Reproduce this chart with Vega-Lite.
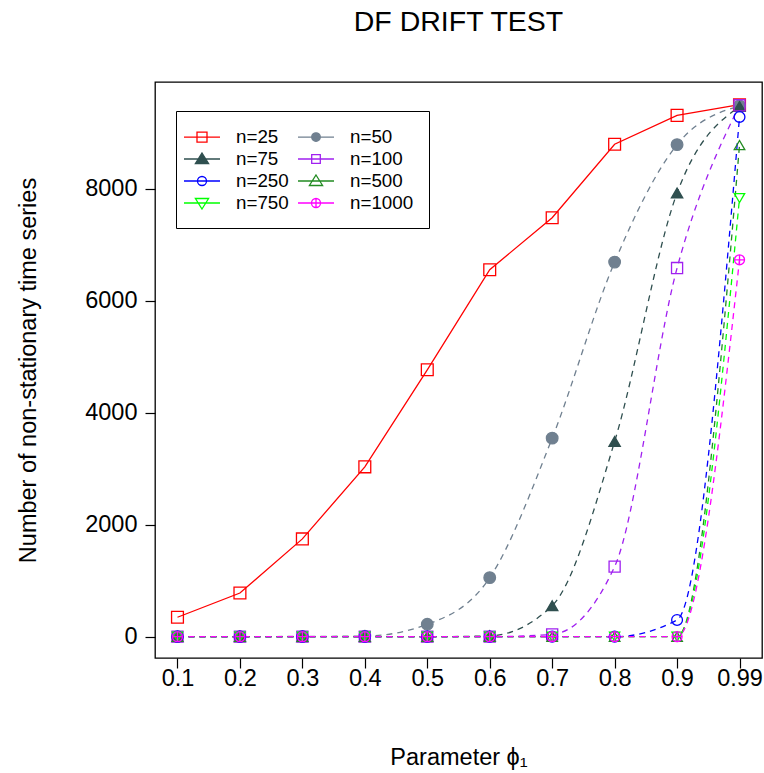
{
  "$schema": "https://vega.github.io/schema/vega-lite/v6.json",
  "width": 607,
  "height": 576,
  "autosize": "none",
  "padding": {"left": 155, "top": 82, "right": 2, "bottom": 115},
  "background": "white",
  "config": {
    "font": "Liberation Sans",
    "view": {"stroke": "black", "strokeWidth": 1.3},
    "axis": {"labelColor": "black", "titleColor": "black", "tickColor": "black", "tickWidth": 1.2, "grid": false, "domain": false}
  },
  "title": {"text": "DF DRIFT TEST", "fontSize": 28.5, "fontWeight": "normal", "font": "Liberation Sans", "anchor": "middle", "frame": "group", "offset": 46, "color": "black"},
  "data": {"values": [
    {"n": "n=25", "phi": "0.1", "count": 347}, {"n": "n=25", "phi": "0.2", "count": 780}, {"n": "n=25", "phi": "0.3", "count": 1746}, {"n": "n=25", "phi": "0.4", "count": 3033}, {"n": "n=25", "phi": "0.5", "count": 4766}, {"n": "n=25", "phi": "0.6", "count": 6553}, {"n": "n=25", "phi": "0.7", "count": 7482}, {"n": "n=25", "phi": "0.8", "count": 8795}, {"n": "n=25", "phi": "0.9", "count": 9310}, {"n": "n=25", "phi": "0.99", "count": 9500},
    {"n": "n=50", "phi": "0.1", "count": 0}, {"n": "n=50", "phi": "0.2", "count": 0}, {"n": "n=50", "phi": "0.3", "count": 5}, {"n": "n=50", "phi": "0.4", "count": 10}, {"n": "n=50", "phi": "0.5", "count": 221}, {"n": "n=50", "phi": "0.6", "count": 1054}, {"n": "n=50", "phi": "0.7", "count": 3545}, {"n": "n=50", "phi": "0.8", "count": 6690}, {"n": "n=50", "phi": "0.9", "count": 8787}, {"n": "n=50", "phi": "0.99", "count": 9480},
    {"n": "n=75", "phi": "0.1", "count": 0}, {"n": "n=75", "phi": "0.2", "count": 0}, {"n": "n=75", "phi": "0.3", "count": 0}, {"n": "n=75", "phi": "0.4", "count": 0}, {"n": "n=75", "phi": "0.5", "count": 0}, {"n": "n=75", "phi": "0.6", "count": 15}, {"n": "n=75", "phi": "0.7", "count": 554}, {"n": "n=75", "phi": "0.8", "count": 3485}, {"n": "n=75", "phi": "0.9", "count": 7923}, {"n": "n=75", "phi": "0.99", "count": 9470},
    {"n": "n=100", "phi": "0.1", "count": 0}, {"n": "n=100", "phi": "0.2", "count": 0}, {"n": "n=100", "phi": "0.3", "count": 0}, {"n": "n=100", "phi": "0.4", "count": 0}, {"n": "n=100", "phi": "0.5", "count": 0}, {"n": "n=100", "phi": "0.6", "count": 0}, {"n": "n=100", "phi": "0.7", "count": 40}, {"n": "n=100", "phi": "0.8", "count": 1251}, {"n": "n=100", "phi": "0.9", "count": 6583}, {"n": "n=100", "phi": "0.99", "count": 9490},
    {"n": "n=250", "phi": "0.1", "count": 0}, {"n": "n=250", "phi": "0.2", "count": 0}, {"n": "n=250", "phi": "0.3", "count": 0}, {"n": "n=250", "phi": "0.4", "count": 0}, {"n": "n=250", "phi": "0.5", "count": 0}, {"n": "n=250", "phi": "0.6", "count": 0}, {"n": "n=250", "phi": "0.7", "count": 0}, {"n": "n=250", "phi": "0.8", "count": 0}, {"n": "n=250", "phi": "0.9", "count": 298}, {"n": "n=250", "phi": "0.99", "count": 9281},
    {"n": "n=500", "phi": "0.1", "count": 0}, {"n": "n=500", "phi": "0.2", "count": 0}, {"n": "n=500", "phi": "0.3", "count": 0}, {"n": "n=500", "phi": "0.4", "count": 0}, {"n": "n=500", "phi": "0.5", "count": 0}, {"n": "n=500", "phi": "0.6", "count": 0}, {"n": "n=500", "phi": "0.7", "count": 0}, {"n": "n=500", "phi": "0.8", "count": 0}, {"n": "n=500", "phi": "0.9", "count": 0}, {"n": "n=500", "phi": "0.99", "count": 8780},
    {"n": "n=750", "phi": "0.1", "count": 0}, {"n": "n=750", "phi": "0.2", "count": 0}, {"n": "n=750", "phi": "0.3", "count": 0}, {"n": "n=750", "phi": "0.4", "count": 0}, {"n": "n=750", "phi": "0.5", "count": 0}, {"n": "n=750", "phi": "0.6", "count": 0}, {"n": "n=750", "phi": "0.7", "count": 0}, {"n": "n=750", "phi": "0.8", "count": 0}, {"n": "n=750", "phi": "0.9", "count": 0}, {"n": "n=750", "phi": "0.99", "count": 7834},
    {"n": "n=1000", "phi": "0.1", "count": 0}, {"n": "n=1000", "phi": "0.2", "count": 0}, {"n": "n=1000", "phi": "0.3", "count": 0}, {"n": "n=1000", "phi": "0.4", "count": 0}, {"n": "n=1000", "phi": "0.5", "count": 0}, {"n": "n=1000", "phi": "0.6", "count": 0}, {"n": "n=1000", "phi": "0.7", "count": 0}, {"n": "n=1000", "phi": "0.8", "count": 0}, {"n": "n=1000", "phi": "0.9", "count": 0}, {"n": "n=1000", "phi": "0.99", "count": 6731}
  ]},
  "encoding": {
    "x": {"field": "phi", "type": "ordinal",
      "scale": {"type": "point", "padding": 0.36, "domain": ["0.1", "0.2", "0.3", "0.4", "0.5", "0.6", "0.7", "0.8", "0.9", "0.99"]},
      "axis": {"title": "Parameter  ϕ₁", "labelAngle": 0, "labelFontSize": 23.5, "titleFontSize": 23.5, "titleFontWeight": "normal", "tickSize": 10, "labelPadding": -2, "titlePadding": 56}},
    "y": {"field": "count", "type": "quantitative",
      "scale": {"domain": [-381, 9906], "nice": false, "zero": false},
      "axis": {"title": "Number of non-stationary time series", "values": [0, 2000, 4000, 6000, 8000], "format": "d", "labelFontSize": 23.5, "titleFontSize": 23.5, "titleFontWeight": "normal", "tickSize": 10, "labelPadding": 8, "titlePadding": 44}}
  },
  "resolve": {
    "scale": {"shape": "independent", "size": "independent"},
    "legend": {"shape": "independent", "stroke": "independent", "fill": "independent", "color": "independent", "size": "independent"}
  },
  "layer": [
    {
      "transform": [{"filter": "datum.n === 'n=25'"}],
      "mark": {"type": "line", "strokeWidth": 1.3, "interpolate": "linear"},
      "encoding": {
        "color": {"field": "n", "type": "nominal", "legend": null,
          "scale": {"domain": ["n=25", "n=50", "n=75", "n=100", "n=250", "n=500", "n=750", "n=1000"], "range": ["#FF0000", "#708090", "#2F4F4F", "#A020F0", "#0000FF", "#228B22", "#00FF00", "#FF00FF"]}}
      }
    },
    {
      "transform": [{"filter": "datum.n !== 'n=25'"}],
      "mark": {"type": "line", "strokeWidth": 1.3, "interpolate": "monotone", "strokeDash": [6, 5]},
      "encoding": {
        "color": {"field": "n", "type": "nominal", "legend": null}
      }
    },
    {
      "mark": {"type": "point", "filled": false, "strokeWidth": 1.3, "opacity": 1},
      "encoding": {
        "shape": {"field": "n", "type": "nominal", "legend": null,
          "scale": {"domain": ["n=25", "n=50", "n=75", "n=100", "n=250", "n=500", "n=750", "n=1000"], "range": ["square", "circle", "triangle-up", "square", "circle", "triangle-up", "triangle-down", "M-1,0A1,1,0,1,1,1,0A1,1,0,1,1,-1,0ZM-1,0H1M0,-1V1"]}},
        "stroke": {"field": "n", "type": "nominal", "legend": null,
          "scale": {"domain": ["n=25", "n=50", "n=75", "n=100", "n=250", "n=500", "n=750", "n=1000"], "range": ["#FF0000", "#708090", "#2F4F4F", "#A020F0", "#0000FF", "#228B22", "#00FF00", "#FF00FF"]}},
        "fill": {"field": "n", "type": "nominal", "legend": null,
          "scale": {"domain": ["n=25", "n=50", "n=75", "n=100", "n=250", "n=500", "n=750", "n=1000"], "range": ["transparent", "#708090", "#2F4F4F", "transparent", "transparent", "transparent", "transparent", "transparent"]}},
        "size": {"field": "n", "type": "ordinal", "legend": null,
          "scale": {"domain": ["n=25", "n=50", "n=75", "n=100", "n=250", "n=500", "n=750", "n=1000"], "range": [140, 100, 190, 120, 121, 169, 169, 121]}}
      }
    },
    {
      "mark": {"type": "point", "filled": false, "strokeWidth": 1.3, "opacity": 0, "size": 400},
      "encoding": {
        "shape": {"field": "n", "type": "nominal",
          "scale": {"domain": ["n=25", "n=50", "n=75", "n=100", "n=250", "n=500", "n=750", "n=1000"], "range": ["M-1.8,0H1.8M-0.5,-0.5H0.5V0.5H-0.5Z", "M-1.8,0H1.8M-0.43,0A0.43,0.43,0,1,1,0.43,0A0.43,0.43,0,1,1,-0.43,0Z", "M-1.8,0H1.8M0,-0.6L0.66,0.45H-0.66Z", "M-1.8,0H1.8M-0.43,-0.43H0.43V0.43H-0.43Z", "M-1.8,0H1.8M-0.45,0A0.45,0.45,0,1,1,0.45,0A0.45,0.45,0,1,1,-0.45,0Z", "M-1.8,0H1.8M0,-0.6L0.66,0.45H-0.66Z", "M-1.8,0H1.8M0,0.6L0.66,-0.45H-0.66Z", "M-1.8,0H1.8M-0.45,0A0.45,0.45,0,1,1,0.45,0A0.45,0.45,0,1,1,-0.45,0ZM0,-0.45V0.45"]},
          "legend": {
            "title": null, "orient": "none", "legendX": 21, "legendY": 29, "columns": 2, "direction": "horizontal",
            "strokeColor": "black", "fillColor": "white", "padding": 15, "columnPadding": 6, "rowPadding": 1,
            "symbolSize": 400, "symbolStrokeWidth": 1.3, "symbolOpacity": 1, "labelOffset": 23, "labelFontSize": 18.8, "labelFont": "Liberation Sans", "labelColor": "black"
          }},
        "stroke": {"field": "n", "type": "nominal"},
        "fill": {"field": "n", "type": "nominal"}
      }
    }
  ]
}
